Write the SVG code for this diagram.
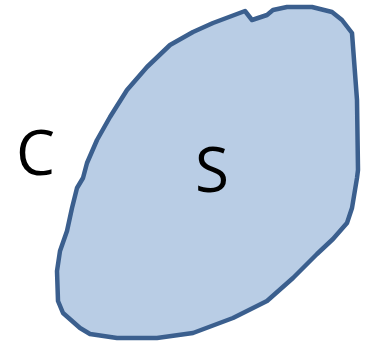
<svg xmlns="http://www.w3.org/2000/svg" width="369" height="342" viewBox="0 0 369 342">
<style>
.blob{fill:#B9CDE5;stroke:#3B5F8E;stroke-width:4.5;stroke-linejoin:round}
.lbl{font-family:"Open Sans","Liberation Sans",sans-serif;font-size:62px;fill:#000}
</style>
<rect width="369" height="342" fill="#fff"/>
<g id="S">
<path class="blob" d="M245,11 L252,20 L267,15 L273,10 L287,7 L312,7 L332,12 L342,20 L352,33 L357,100 L358,170 L357,178 L352,208 L347,223 L333,239 L317,254 L293,278 L267,301 L233,318 L193,333 L157,338 L117,338 L90,334 L80,328 L63,313 L58,301 L57,271 L60,251 L67,231 L72,208 L77,188 L83,178 L87,163 L97,140 L110,117 L127,90 L147,67 L170,45 L193,32 L213,23 Z"/>
<text class="lbl" x="195" y="192">S</text>
</g>
<g id="C">
<text class="lbl" x="16" y="175">C</text>
</g>
<g id="connectors"/>
</svg>
